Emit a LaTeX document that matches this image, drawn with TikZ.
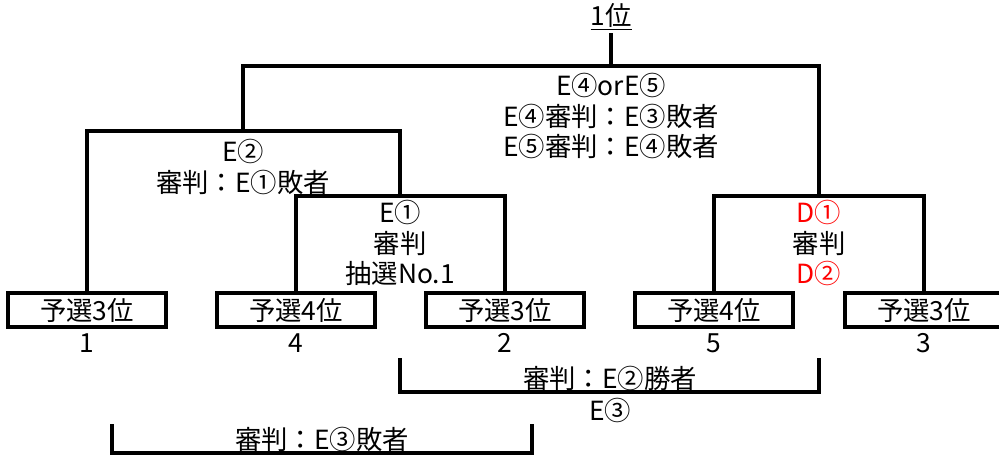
\documentclass[tikz,border=0pt]{standalone}
\usepackage{fontspec}
\setmainfont{Noto Sans CJK JP}
\usetikzlibrary{calc}

\begin{document}
\begin{tikzpicture}
	[x=0.02cm,y=-0.02cm,line width=2pt,
	every node/.style={inner sep=0pt,align=center,
		font=\fontsize{15}{17.5}\selectfont},
	seed/.style={draw,line width=2pt,minimum width=3.16cm,minimum height=0.68cm}]
	\useasboundingbox (0,0) rectangle (999,455);
	\node (win) at (611,17) {\underline{1位}};
	
	\foreach \name/\px/\rank/\num in {b1/87/3/1,b2/296/4/4,b3/505/3/2,b4/714/4/5,b5/924/3/3}
	{
		\node[seed] (\name) at (\px,310) {予選\rank 位};
		\node (\name-no) at (\px,343) {\num};
	}
	
	\coordinate (top) at (611,66);
	\coordinate (e2) at (243,131);
	\coordinate (e1) at (400,196);
	\coordinate (d1) at (819,196);
	
	\draw (b2.north) |- (e1) -| (b3.north);
	\draw (b1.north) |- (e2) -| (e1);
	\draw (b4.north) |- (d1) -| (b5.north);
	\draw (e2) |- (top) -| (d1);
	\draw (top) -- (win.south);
	
	\node (lbl-top) at (611,116) {E④orE⑤\\E④審判：E③敗者\\E⑤審判：E④敗者};
	\node (lbl-e2) at (243,167) {E②\\審判：E①敗者};
	\node (lbl-e1) at (400,243) {E①\\審判\\抽選No.1};
	\node (lbl-d1) at (819,243) {\textcolor{red}{D①}\\審判\\\textcolor{red}{D②}};
	
	% E3
	\coordinate (e3l) at (400,358);
	\coordinate (e3r) at (819,358);
	\coordinate (e3) at (610,392);
	\draw (e3l) |- (e3) -| (e3r);
	\node (lbl-e3a) at (610,378) {審判：E②勝者};
	\node (lbl-e3b) at (610,410) {E③};
	
	\coordinate (e45l) at (112,424);
	\coordinate (e45r) at (532,424);
	\coordinate (e45) at (322,453);
	\draw (e45l) |- (e45) -| (e45r);
	\node (lbl-e45) at (322,439) {審判：E③敗者};
\end{tikzpicture}
\end{document}
